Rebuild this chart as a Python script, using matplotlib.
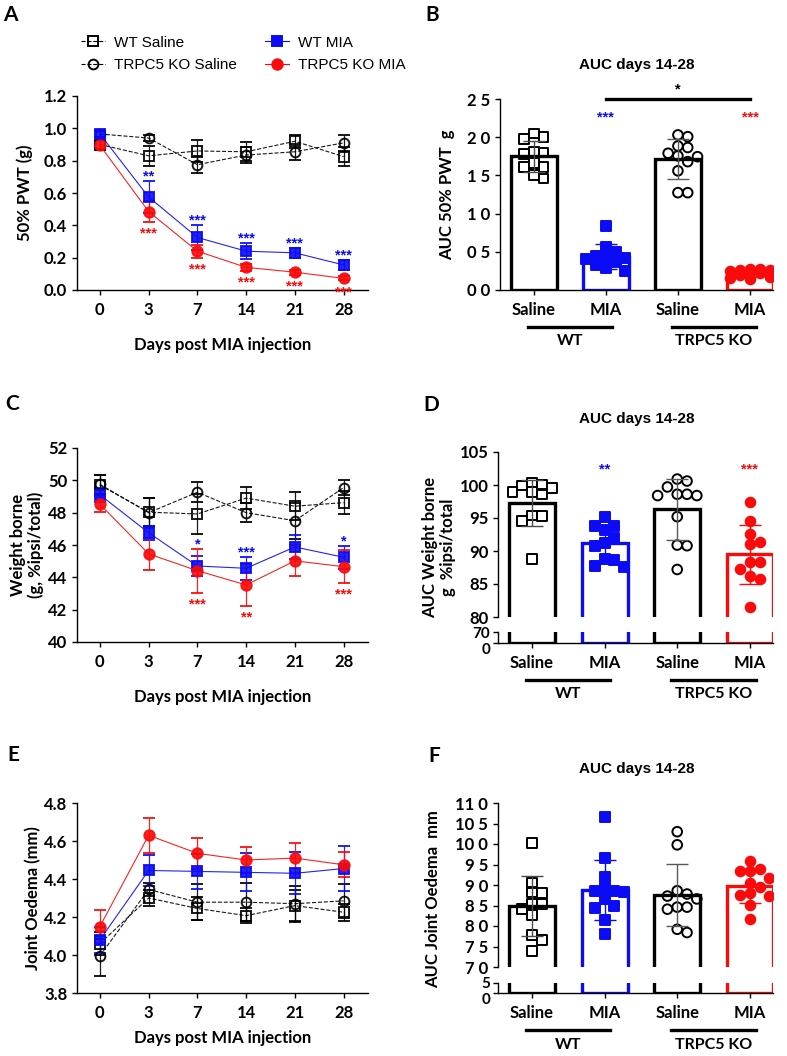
import numpy as np
import matplotlib
matplotlib.use("Agg")
import matplotlib.pyplot as plt
from matplotlib.lines import Line2D
from matplotlib import transforms
from matplotlib.ticker import FuncFormatter

W, H = 787, 1056

days = ["0", "3", "7", "14", "21", "28"]
groups = ["wt_sal", "wt_mia", "ko_sal", "ko_mia"]
bar_labels = ["Saline", "MIA", "Saline", "MIA"]

# --- A: 50% PWT (g), mean and SEM per day
pwt_mean = {
    "wt_sal": [0.90, 0.83, 0.86, 0.855, 0.92, 0.825],
    "ko_sal": [0.965, 0.94, 0.775, 0.835, 0.855, 0.91],
    "wt_mia": [0.965, 0.575, 0.325, 0.24, 0.23, 0.155],
    "ko_mia": [0.895, 0.485, 0.24, 0.14, 0.11, 0.072],
}
pwt_err = {
    "wt_sal": [0.03, 0.06, 0.07, 0.06, 0.04, 0.06],
    "ko_sal": [0.02, 0.02, 0.05, 0.05, 0.05, 0.05],
    "wt_mia": [0.02, 0.10, 0.08, 0.05, 0.03, 0.03],
    "ko_mia": [0.03, 0.065, 0.04, 0.02, 0.015, 0.012],
}
pwt_stars = [(1, "**", "***"), (2, "***", "***"), (3, "***", "***"),
             (4, "***", "***"), (5, "***", "***")]

# --- C: weight borne
wb_mean = {
    "wt_sal": [49.7, 48.03, 47.92, 48.9, 48.4, 48.62],
    "ko_sal": [49.75, 48.0, 49.26, 48.0, 47.5, 49.55],
    "wt_mia": [49.1, 46.76, 44.7, 44.56, 45.88, 45.24],
    "ko_mia": [48.52, 45.45, 44.41, 43.53, 45.02, 44.66],
}
wb_err = {
    "wt_sal": [0.6, 0.85, 1.25, 0.7, 0.85, 0.7],
    "ko_sal": [0.6, 0.9, 0.62, 0.6, 1.1, 0.48],
    "wt_mia": [0.45, 0.42, 0.6, 0.7, 0.75, 0.7],
    "ko_mia": [0.45, 1.0, 1.35, 1.3, 0.95, 1.0],
}
wb_stars = [(2, "*", "***"), (3, "***", "**"), (5, "*", "***")]

# --- E: joint oedema (mm)
oed_mean = {
    "wt_sal": [4.06, 4.30, 4.245, 4.207, 4.26, 4.225],
    "ko_sal": [3.996, 4.345, 4.278, 4.278, 4.27, 4.285],
    "wt_mia": [4.08, 4.445, 4.44, 4.435, 4.43, 4.455],
    "ko_mia": [4.15, 4.63, 4.535, 4.50, 4.51, 4.475],
}
oed_err = {
    "wt_sal": [0.06, 0.04, 0.06, 0.04, 0.08, 0.045],
    "ko_sal": [0.105, 0.035, 0.095, 0.10, 0.095, 0.09],
    "wt_mia": [0.07, 0.08, 0.09, 0.10, 0.11, 0.12],
    "ko_mia": [0.085, 0.093, 0.08, 0.07, 0.08, 0.065],
}

# --- B: AUC 50% PWT, individual animals
auc_pwt = {
    "wt_sal": [2.0, 2.05, 1.977, 1.78, 1.81, 1.80, 1.61, 1.61, 1.66, 1.46, 1.505],
    "wt_mia": [0.84, 0.56, 0.50, 0.44, 0.42, 0.42, 0.40, 0.29, 0.33, 0.25, 0.36],
    "ko_sal": [2.007, 2.03, 1.865, 1.885, 1.79, 1.745, 1.755, 1.68, 1.56, 1.274, 1.274],
    "ko_mia": [0.28, 0.27, 0.26, 0.26, 0.25, 0.23, 0.22, 0.20, 0.17, 0.16, 0.15],
}
# --- D: AUC weight borne
auc_wb = {
    "wt_sal": [99.9, 98.9, 100.4, 98.9, 100.0, 99.5, 98.6, 95.3, 95.4, 94.5, 88.8],
    "wt_mia": [95.2, 93.2, 93.8, 93.8, 91.9, 91.2, 90.8, 88.8, 88.6, 87.8, 87.6],
    "ko_sal": [100.9, 100.6, 99.7, 98.4, 98.6, 98.6, 98.4, 95.2, 90.9, 90.8, 87.2],
    "ko_mia": [97.5, 94.5, 91.3, 91.1, 92.6, 87.3, 88.4, 88.4, 85.8, 86.2, 81.5],
}
# --- F: AUC joint oedema
auc_oed = {
    "wt_sal": [10.02, 8.82, 9.06, 8.80, 8.41, 8.54, 8.53, 8.27, 7.78, 7.66, 7.39],
    "wt_mia": [10.65, 9.65, 9.19, 8.92, 8.86, 8.86, 8.82, 8.65, 8.43, 8.49, 8.15, 7.80],
    "ko_sal": [10.30, 9.98, 8.78, 8.73, 8.66, 8.86, 8.46, 8.46, 8.41, 7.84, 7.92],
    "ko_mia": [9.59, 9.35, 9.35, 9.38, 9.16, 9.04, 8.80, 8.72, 8.76, 8.51, 8.16, 8.95],
}

BLUE = "#0b0bf5"
RED = "#fa0a0a"

plt.rcParams["font.family"] = ["Lato", "DejaVu Sans"]
plt.rcParams["font.weight"] = "bold"
plt.rcParams["axes.labelweight"] = "bold"
plt.rcParams["axes.linewidth"] = 1.0
plt.rcParams["xtick.major.width"] = 1.0
plt.rcParams["ytick.major.width"] = 1.0
plt.rcParams["xtick.major.size"] = 3.5
plt.rcParams["ytick.major.size"] = 3.5
plt.rcParams["xtick.labelsize"] = 12
plt.rcParams["ytick.labelsize"] = 12

fig = plt.figure(figsize=(W / 100, H / 100), dpi=100)


def add_ax(x0, y0, x1, y1):
    return fig.add_axes([x0 / W, 1 - y1 / H, (x1 - x0) / W, (y1 - y0) / H])


def fy(ypx):
    return 1 - ypx / H


line_style = {
    "wt_sal": dict(color="black", marker="s", mfc="none", ls="--", ms=7.5),
    "ko_sal": dict(color="black", marker="o", mfc="none", ls="--", ms=7),
    "wt_mia": dict(color=BLUE, marker="s", mfc=BLUE, ls="-", ms=7.5),
    "ko_mia": dict(color=RED, marker="o", mfc=RED, ls="-", ms=7.5),
}


def star(ax, x, y, txt, color, dy):
    ax.annotate(txt, xy=(x, y), xytext=(0, dy), textcoords="offset points",
                ha="center", va="center", color=color, fontsize=10.5,
                fontfamily="Liberation Sans", fontweight="bold",
                annotation_clip=False)


def line_panel(ax, means, errs, ylim, yticks, fmt, ylabel, ylab_x, xlab_y, stars=()):
    x = np.arange(len(days))
    for key in ["ko_sal", "wt_sal", "wt_mia", "ko_mia"]:
        st = line_style[key]
        ax.errorbar(x, means[key], yerr=errs[key], color=st["color"], ls=st["ls"],
                    lw=0.8, marker=st["marker"], ms=st["ms"], mfc=st["mfc"],
                    mec=st["color"], mew=1.4, capsize=4.3, elinewidth=0.9,
                    capthick=0.9, ecolor=st["color"], alpha=0.9)
    for i, top, bot in stars:
        hi = max(means["wt_mia"][i] + errs["wt_mia"][i], means["ko_mia"][i] + errs["ko_mia"][i])
        lo = min(means["wt_mia"][i] - errs["wt_mia"][i], means["ko_mia"][i] - errs["ko_mia"][i])
        star(ax, i, hi, top, BLUE, 3.0)
        star(ax, i, lo, bot, RED, -8.5)
    ax.set_xlim(-0.47, 5.5)
    ax.set_ylim(*ylim)
    ax.set_yticks(yticks)
    ax.yaxis.set_major_formatter(FuncFormatter(lambda v, p: fmt.format(v)))
    ax.set_xticks(x)
    ax.set_xticklabels(days)
    ax.tick_params(axis="x", pad=5)
    for s in ["top", "right"]:
        ax.spines[s].set_visible(False)
    ax.set_ylabel(ylabel, fontsize=12, linespacing=1.1)
    ax.yaxis.set_label_coords(ylab_x, 0.5)
    ax.yaxis.label.set_va("center")
    ax.set_xlabel("Days post MIA injection", fontsize=12)
    ax.xaxis.set_label_coords(0.5, xlab_y)
    ax.xaxis.label.set_va("center")


bar_style = {
    "wt_sal": dict(ec="black", marker="s", fc="none", mc="black", errc="#4a4a4a"),
    "wt_mia": dict(ec=BLUE, marker="s", fc=BLUE, mc=BLUE, errc=BLUE),
    "ko_sal": dict(ec="black", marker="o", fc="none", mc="black", errc="#5a5a5a"),
    "ko_mia": dict(ec=RED, marker="o", fc=RED, mc=RED, errc=RED),
}


def swarm(ax, x0, vals, d_px):
    # GraphPad-like scatter: at most five columns, overlap when crowded
    t = ax.transData
    ux = t.transform((1, 0))[0] - t.transform((0, 0))[0]
    uy = t.transform((0, 1))[1] - t.transform((0, 0))[1]
    vals = np.asarray(vals, float)
    placed = []
    out = np.zeros(len(vals))
    step = d_px * 0.98
    for i in np.argsort(-vals):
        y = vals[i] * uy
        best, best_d = 0.0, -1.0
        for k in [0, 1, -1, 2, -2]:
            cx = k * step
            dmin = min([np.hypot(cx - px, y - py) for px, py in placed] or [1e9])
            if dmin >= step:
                best = cx
                break
            if dmin > best_d + 0.5:
                best, best_d = cx, dmin
        placed.append((best, y))
        out[i] = x0 + best / ux
    return out


def bar_panel(ax, ax_low, data, ylim, yticks, fmt, ylabel, ylab_xy):
    axes = [ax] + ([ax_low] if ax_low is not None else [])
    for a in axes:
        a.set_xlim(-0.47, 3.32)
    ax.set_ylim(*ylim)
    for i, key in enumerate(groups):
        st = bar_style[key]
        v = np.array(data[key])
        m, sd = v.mean(), v.std(ddof=1)
        for a in axes:
            a.bar(i, m, width=0.63, color="white", edgecolor=st["ec"], linewidth=2.4, zorder=1)
        xs = swarm(ax, i, v, 10.0)
        ax.scatter(xs, v, marker=st["marker"], s=48, facecolors=st["fc"],
                   edgecolors=st["mc"], linewidths=1.4, zorder=3)
        ax.errorbar(i, m, yerr=sd, color=st["errc"], capsize=8, elinewidth=1.0,
                    capthick=1.0, zorder=4)
    ax.set_yticks(yticks)
    ax.yaxis.set_major_formatter(FuncFormatter(lambda v, p: fmt(v)))
    for s in ["top", "right"]:
        for a in axes:
            a.spines[s].set_visible(False)
    bottom = ax_low if ax_low is not None else ax
    if ax_low is not None:
        ax.spines["bottom"].set_visible(False)
        ax.tick_params(axis="x", bottom=False, labelbottom=False)
    bottom.set_xticks(range(4))
    bottom.set_xticklabels(bar_labels)
    bottom.tick_params(axis="x", pad=5)
    ax.set_ylabel(ylabel, fontsize=12, linespacing=1.1)
    ax.yaxis.set_label_coords(*ylab_xy)
    ax.yaxis.label.set_va("center")
    return bottom


def broken_low(ax_low, top):
    ax_low.set_ylim(0, top)
    ax_low.set_yticks([0, top])
    ax_low.tick_params(axis="y", labelsize=11, pad=2)
    # nudge the zero label down a little so it does not sit on the upper one
    ax_low.get_yticklabels()[0].set_va("top")


def group_labels(ax, line_y, text_y):
    tr = transforms.blended_transform_factory(ax.transData, fig.transFigure)
    for (a, b), name in [((0, 1), "WT"), ((2, 3), "TRPC5 KO")]:
        ax.add_line(Line2D([a - 0.08, b + 0.08], [fy(line_y), fy(line_y)], transform=tr,
                           color="black", lw=2.4, clip_on=False))
        ax.text((a + b) / 2, fy(text_y), name, transform=tr, ha="center", va="center",
                fontsize=11.5)


def dec_space(v):
    return "{:.1f}".format(v).replace(".", " ")


# panel A
axA = add_ax(77, 96, 368, 290)
line_panel(axA, pwt_mean, pwt_err, (0, 1.2), np.arange(0, 1.21, 0.2), "{:.1f}",
           "50% PWT (g)", -0.179, -0.284, pwt_stars)

# panel C
axC = add_ax(77, 448, 368, 642)
line_panel(axC, wb_mean, wb_err, (40, 52), np.arange(40, 53, 2), "{:.0f}",
           "Weight borne\n(g, %ipsi/total)", -0.172, -0.284, wb_stars)

# panel E
axE = add_ax(77, 803, 368, 993)
line_panel(axE, oed_mean, oed_err, (3.8, 4.8), np.arange(3.8, 4.81, 0.2), "{:.1f}",
           "Joint Oedema (mm)", -0.151, -0.237)

# panel B
axB = add_ax(500, 99, 773, 290)
bar_panel(axB, None, auc_pwt, (0, 2.5), np.arange(0, 2.51, 0.5), dec_space,
          "AUC 50% PWT  g", (-0.194, 0.5))
group_labels(axB, 327, 341)
for i in [1, 3]:
    axB.text(i, 2.26, "***", color=BLUE if i == 1 else RED, ha="center", va="center",
             fontsize=10.5, fontfamily="Liberation Sans", fontweight="bold")
axB.plot([1, 3], [2.5, 2.5], color="black", lw=2.4, clip_on=False)
axB.text(2, 2.63, "*", ha="center", va="center", fontsize=10.5,
         fontfamily="Liberation Sans", clip_on=False)

# panel D (broken y axis)
axD = add_ax(498, 452, 773, 617)
axD2 = add_ax(498, 632, 773, 643)
bar_panel(axD, axD2, auc_wb, (80, 105), np.arange(80, 106, 5), lambda v: "{:.0f}".format(v),
          "AUC Weight borne\ng  %ipsi/total", (-0.215, 0.42))
broken_low(axD2, 70)
group_labels(axD2, 680, 694)
for i in [1, 3]:
    axD.text(i, 102.3, "**" if i == 1 else "***", color=BLUE if i == 1 else RED,
             ha="center", va="center", fontsize=10.5, fontfamily="Liberation Sans",
             fontweight="bold")

# panel F (broken y axis)
axF = add_ax(498, 803, 773, 967)
axF2 = add_ax(498, 983, 773, 993)
bar_panel(axF, axF2, auc_oed, (7, 11), np.arange(7, 11.01, 0.5), dec_space,
          "AUC Joint Oedema  mm", (-0.236, 0.415))
broken_low(axF2, 5)
group_labels(axF2, 1030, 1045)

# titles, panel letters
for y in [65, 419, 769]:
    fig.text(637 / W, fy(y), "AUC days 14-28", ha="center", va="center", fontsize=11,
             fontfamily="Liberation Sans", fontweight="bold")
for lab, x, y in [("A", 3, 15), ("B", 425, 15), ("C", 5, 404), ("D", 423, 405),
                  ("E", 7, 755), ("F", 428, 756)]:
    fig.text(x / W, fy(y), lab, ha="left", va="center", fontsize=15)

# legend (its last label runs on into panel B, as in the source figure)
handles = []
names = {"wt_sal": "WT Saline", "ko_sal": "TRPC5 KO Saline",
         "wt_mia": "WT MIA", "ko_mia": "TRPC5 KO MIA"}
for key in ["wt_sal", "ko_sal", "wt_mia", "ko_mia"]:
    st = line_style[key]
    handles.append(Line2D([], [], color=st["color"], ls=st["ls"], lw=0.8, marker=st["marker"],
                          ms=st["ms"], mfc=st["mfc"], mec=st["color"], mew=1.4,
                          label=names[key]))
fig.legend(handles=handles, loc="upper left", bbox_to_anchor=(67 / W, fy(22)), ncol=2,
           frameon=False, handlelength=1.6, handletextpad=0.6, columnspacing=1.8,
           labelspacing=0.55, prop=dict(family="Liberation Sans", weight="normal", size=11))

fig.savefig("out.png", dpi=100)
